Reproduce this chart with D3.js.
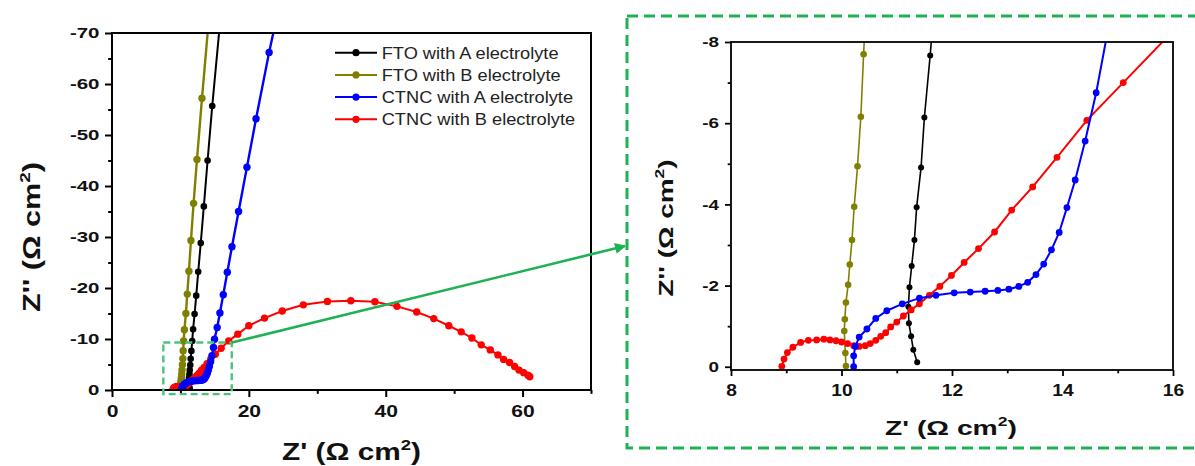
<!DOCTYPE html>
<html>
<head>
<meta charset="utf-8">
<script src="https://cdn.jsdelivr.net/npm/d3@7"></script>
<style>
  body { margin: 0; background: #fff; }
  svg { display: block; }
  text { font-family: Arial, "Liberation Sans", sans-serif; }
</style>
</head>
<body>
<svg id="chart" width="1195" height="466"></svg>
<script>
// Nyquist data, [Z', Z''] in ohm cm2 (Z'' negative, plotted upward)
const ftoA = [[11.37,-0.11],[11.30,-0.42],[11.26,-0.75],[11.22,-1.07],[11.21,-1.48],[11.23,-1.96],
  [11.27,-2.48],[11.32,-3.12],[11.36,-3.93],[11.44,-4.91],[11.50,-6.14],[11.605,-7.67],[11.72,-9.6],
  [11.85,-11.9],[12.07,-14.9],[12.31,-18.5],[12.6,-23.2],[12.97,-28.8],[13.42,-36.0],[13.97,-45.0],
  [14.65,-55.7],[15.7,-70.8]];
const ftoB = [[10.08,-0.02],[10.07,-0.34],[10.05,-0.88],[10.06,-1.17],[10.08,-1.58],[10.12,-2.02],
  [10.15,-2.52],[10.19,-3.12],[10.23,-3.94],[10.29,-4.94],[10.35,-6.16],[10.40,-7.70],[10.47,-9.6],
  [10.58,-11.8],[10.8,-15.0],[11.0,-18.8],[11.24,-23.3],[11.54,-29.3],[11.92,-36.6],[12.42,-45.2],
  [13.15,-57.2],[14.07,-71.5]];
const ctncA = [[10.22,0.0],[10.22,-0.27],[10.25,-0.5],[10.32,-0.73],[10.46,-0.93],[10.62,-1.19],
  [10.82,-1.38],[11.10,-1.55],[11.41,-1.69],[11.71,-1.76],[12.04,-1.82],[12.33,-1.84],[12.60,-1.86],
  [12.83,-1.88],[13.03,-1.91],[13.21,-1.98],[13.37,-2.08],[13.52,-2.27],[13.66,-2.53],[13.80,-2.88],
  [13.94,-3.31],[14.08,-3.92],[14.23,-4.6],[14.41,-5.56],[14.61,-6.75],[14.83,-8.35],[14.98,-9.97],
  [15.37,-12.25],[15.77,-15.1],[16.26,-18.7],[16.85,-23.1],[17.53,-28.1],[18.5,-35.0],[19.72,-43.7],
  [21.05,-53.2],[22.96,-66.2],[25.5,-82]];
const ctncB = [[8.92,-0.01],[8.96,-0.19],[9.02,-0.35],[9.12,-0.48],[9.26,-0.60],[9.40,-0.65],[9.55,-0.66],
  [9.68,-0.68],[9.79,-0.66],[9.90,-0.64],[10.00,-0.61],[10.11,-0.57],[10.22,-0.52],[10.32,-0.50],
  [10.43,-0.52],[10.52,-0.57],[10.62,-0.65],[10.71,-0.75],[10.80,-0.84],[10.89,-0.98],[11.0,-1.10],
  [11.12,-1.25],[11.26,-1.40],[11.41,-1.55],[11.59,-1.76],[11.78,-1.98],[11.99,-2.25],[12.22,-2.57],
  [12.48,-2.91],[12.77,-3.32],[13.08,-3.86],[13.46,-4.43],[13.90,-5.16],[14.44,-6.07],[15.10,-7.0],
  [15.95,-8.2],[17.06,-9.63],[18.38,-10.95],[19.99,-12.6],[22.29,-14.1],[24.88,-15.5],[27.96,-16.7],
  [31.48,-17.37],[34.9,-17.5],[38.42,-17.3],[41.64,-16.4],[44.53,-15.3],[47.02,-14.0],[49.22,-12.6],
  [51.03,-11.4],[52.59,-10.2],[53.96,-8.85],[55.28,-7.86],[56.4,-6.88],[57.23,-6.0],[58.1,-5.4],
  [58.84,-4.6],[59.48,-3.9],[60.16,-3.4],[60.8,-2.9],[61.05,-2.6]];

const seriesNames = ["FTO with A electrolyte", "FTO with B electrolyte",
                     "CTNC with A electrolyte", "CTNC with B electrolyte"];
const seriesColors = ["#000000", "#808000", "#0000ff", "#ff0000"];
const allSeries = [ftoA, ftoB, ctncA, ctncB];
const drawOrder = [1, 0, 3, 2];

const mainXTicks = [0, 20, 40, 60], mainXMinor = [10, 30, 50, 70];
const mainYTicks = [0, -10, -20, -30, -40, -50, -60, -70];
const mainYMinor = [-5, -15, -25, -35, -45, -55, -65];
const zoomXTicks = [8, 10, 12, 14, 16], zoomXMinor = [9, 11, 13, 15];
const zoomYTicks = [0, -2, -4, -6, -8], zoomYMinor = [-1, -3, -5, -7];
const zoomBoxX = [7.5, 17.5], zoomBoxY = [0.8, -9.3];

const svg = d3.select('#chart');
const defs = svg.append('defs');
const green = '#1fb155';

function stretchTicks(sel, k) {
  sel.selectAll('.tick text').each(function () {
    const t = d3.select(this);
    const x0 = +t.attr('x') || 0;
    t.attr('x', 0).attr('transform', `translate(${x0},0) scale(${k},1)`);
  });
}

function drawPanel(cfg) {
  const x = d3.scaleLinear().domain(cfg.xDomain).range([cfg.left, cfg.right]);
  const y = d3.scaleLinear().domain(cfg.yDomain).range([cfg.bottom, cfg.top]);
  const g = svg.append('g');

  defs.append('clipPath').attr('id', 'clip-' + cfg.name)
    .append('rect')
    .attr('x', cfg.left).attr('y', cfg.top)
    .attr('width', cfg.right - cfg.left).attr('height', cfg.bottom - cfg.top);

  const line = d3.line().x(d => x(d[0])).y(d => y(d[1]));
  const dataG = g.append('g').attr('clip-path', `url(#clip-${cfg.name})`);
  drawOrder.forEach(i => {
    const s = dataG.append('g');
    s.append('path').datum(allSeries[i])
      .attr('d', line)
      .attr('fill', 'none')
      .attr('stroke', seriesColors[i])
      .attr('stroke-width', cfg.lineWidth[i]);
    s.selectAll('circle').data(allSeries[i]).join('circle')
      .attr('cx', d => x(d[0]))
      .attr('cy', d => y(d[1]))
      .attr('r', cfg.radius[i])
      .attr('fill', seriesColors[i]);
  });

  // frame
  g.append('rect')
    .attr('x', cfg.left).attr('y', cfg.top)
    .attr('width', cfg.right - cfg.left).attr('height', cfg.bottom - cfg.top)
    .attr('fill', 'none').attr('stroke', '#000').attr('stroke-width', cfg.frameWidth);

  const fmt = d => String(d);
  const xAxis = g.append('g').attr('transform', `translate(0,${cfg.bottom})`)
    .call(d3.axisBottom(x).tickValues(cfg.xTicks).tickSize(cfg.tickLen).tickPadding(cfg.xPad).tickFormat(fmt));
  const xMinor = g.append('g').attr('transform', `translate(0,${cfg.bottom})`)
    .call(d3.axisBottom(x).tickValues(cfg.xMinor).tickSize(cfg.tickLen * 0.55).tickFormat(''));
  const yAxis = g.append('g').attr('transform', `translate(${cfg.left},0)`)
    .call(d3.axisLeft(y).tickValues(cfg.yTicks).tickSize(cfg.tickLen).tickPadding(cfg.yPad).tickFormat(fmt));
  const yMinor = g.append('g').attr('transform', `translate(${cfg.left},0)`)
    .call(d3.axisLeft(y).tickValues(cfg.yMinor).tickSize(cfg.tickLen * 0.55).tickFormat(''));

  [xAxis, xMinor, yAxis, yMinor].forEach(a => {
    a.select('.domain').remove();
    a.selectAll('.tick line').attr('stroke', '#000').attr('stroke-width', cfg.frameWidth);
  });
  xAxis.selectAll('.tick text').attr('font-size', cfg.xFont).attr('font-weight', 'bold').attr('fill', '#111');
  yAxis.selectAll('.tick text').attr('font-size', cfg.yFont).attr('font-weight', 'bold').attr('fill', '#111');
  stretchTicks(xAxis, cfg.xStretch);
  stretchTicks(yAxis, cfg.yStretch);
  return { x, y, g };
}

function axisTitle(label, cx, cy, rot, size, width) {
  const t = svg.append('text')
    .attr('text-anchor', 'middle')
    .attr('font-size', size)
    .attr('font-weight', 'bold')
    .attr('fill', '#111');
  t.append('tspan').text(label + ' (\u03A9 cm');
  t.append('tspan').attr('font-size', size * 0.62).attr('dy', -size * 0.42).text('2');
  t.append('tspan').attr('dy', size * 0.42).text(')');
  const k = width / t.node().getComputedTextLength();
  t.attr('transform', `translate(${cx},${cy}) rotate(${rot}) scale(${k},1)`);
}

// main panel
const main = drawPanel({
  name: 'main', xDomain: [0, 70], yDomain: [0, -70],
  left: 112, right: 591, top: 33, bottom: 390,
  xTicks: mainXTicks, xMinor: mainXMinor, yTicks: mainYTicks, yMinor: mainYMinor,
  tickLen: 7, xPad: 8, yPad: 5.5, xFont: 17, yFont: 15.5, xStretch: 1.24, yStretch: 1.32,
  frameWidth: 2, lineWidth: [2, 2.4, 2.4, 2], radius: [3.3, 3.7, 3.7, 3.7]
});

// zoomed panel
const zoom = drawPanel({
  name: 'zoom', xDomain: [8, 16], yDomain: [0.08, -8],
  left: 731, right: 1173, top: 42, bottom: 370,
  xTicks: zoomXTicks, xMinor: zoomXMinor, yTicks: zoomYTicks, yMinor: zoomYMinor,
  tickLen: 6, xPad: 9, yPad: 6, xFont: 16, yFont: 14.5, xStretch: 1.2, yStretch: 1.3,
  frameWidth: 1.8, lineWidth: [1.6, 1.6, 2, 2], radius: [3, 3.3, 3.4, 3.4]
});

axisTitle("Z''", 40, 237, -90, 23, 150);
axisTitle("Z'", 351.5, 460, 0, 23, 139);
axisTitle("Z''", 673, 228, -90, 21, 137);
axisTitle("Z'", 951, 435, 0, 21, 132);

// legend
const legend = svg.append('g');
seriesNames.forEach((name, i) => {
  const cy = 52.7 + i * 22.2;
  legend.append('line').attr('x1', 335).attr('x2', 377).attr('y1', cy).attr('y2', cy)
    .attr('stroke', seriesColors[i]).attr('stroke-width', 2);
  legend.append('circle').attr('cx', 356).attr('cy', cy).attr('r', 3.6).attr('fill', seriesColors[i]);
  legend.append('text').attr('class', 'leg').attr('x', 0).attr('y', 0)
    .attr('font-size', 16).attr('fill', '#222')
    .attr('data-cy', cy).text(name);
});
const firstLen = legend.select('text.leg').node().getComputedTextLength();
const legK = 177 / firstLen;
legend.selectAll('text.leg').attr('transform', function () {
  return `translate(381.7,${+this.getAttribute('data-cy') + 5.8}) scale(${legK},1)`;
});

// zoom box in main panel, arrow, and frame round the zoomed panel
const bx0 = main.x(zoomBoxX[0]), bx1 = main.x(zoomBoxX[1]);
const by0 = main.y(zoomBoxY[1]), by1 = main.y(zoomBoxY[0]);
svg.append('rect')
  .attr('x', bx0).attr('y', by0).attr('width', bx1 - bx0).attr('height', by1 - by0)
  .attr('fill', 'none').attr('stroke', '#4cc27c').attr('stroke-width', 2.4)
  .attr('stroke-dasharray', '7,4');

defs.append('marker').attr('id', 'arrowHead')
  .attr('viewBox', '0 0 10 10').attr('refX', 9).attr('refY', 5)
  .attr('markerUnits', 'userSpaceOnUse').attr('markerWidth', 13).attr('markerHeight', 11)
  .attr('orient', 'auto')
  .append('path').attr('d', 'M0,0 L10,5 L0,10 z').attr('fill', green);

svg.append('line')
  .attr('x1', bx1).attr('y1', by0).attr('x2', 625).attr('y2', 246)
  .attr('stroke', green).attr('stroke-width', 2.6)
  .attr('marker-end', 'url(#arrowHead)');

svg.append('rect')
  .attr('x', 627).attr('y', 16).attr('width', 620).attr('height', 432)
  .attr('fill', 'none').attr('stroke', green).attr('stroke-width', 3)
  .attr('stroke-dasharray', '11,6');
</script>
</body>
</html>
